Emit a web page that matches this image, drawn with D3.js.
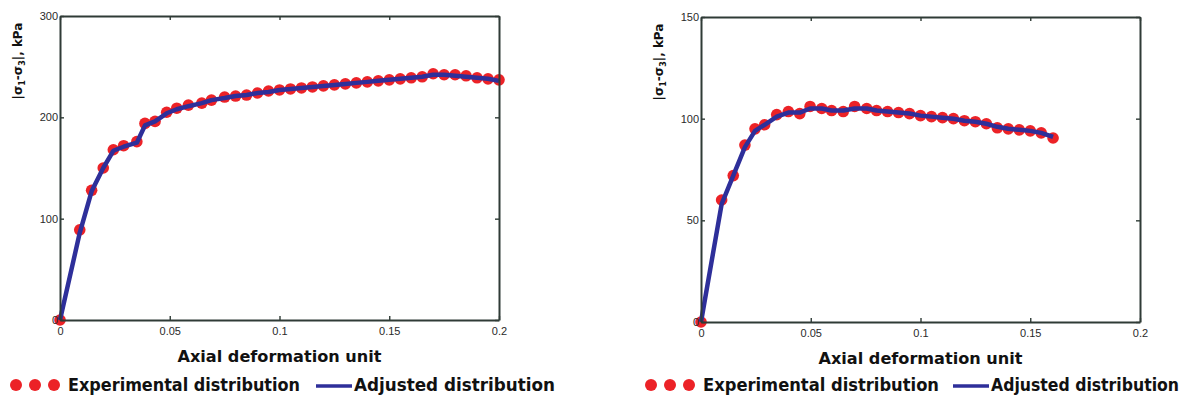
<!DOCTYPE html>
<html>
<head>
<meta charset="utf-8">
<script src="https://cdn.jsdelivr.net/npm/d3@7"></script>
<style>
  body { margin: 0; background: #fff; }
  svg text { font-family: "Liberation Sans", Arial, sans-serif; }
  .tick-label { font-size: 11px; fill: #2a2a2a; }
  .axis-title { font-family: "DejaVu Sans", sans-serif !important; font-size: 16px; font-weight: bold; fill: #111; }
  .y-title { font-family: "DejaVu Sans", sans-serif !important; font-size: 12px; font-weight: bold; fill: #111; }
  .legend-text { font-family: "DejaVu Sans", sans-serif !important; font-size: 17px; font-weight: bold; fill: #111; }
</style>
</head>
<body>
<div id="wrapper"></div>
<script>
// left panel: experimental points
const leftStrain = [0, 0.009, 0.0144, 0.0197, 0.0243, 0.029, 0.035, 0.0387, 0.0433, 0.0486,
  0.0532, 0.0585, 0.0646, 0.069, 0.075, 0.080, 0.085, 0.090, 0.095, 0.100, 0.105, 0.110,
  0.115, 0.120, 0.125, 0.130, 0.135, 0.140, 0.145, 0.150, 0.155, 0.160, 0.165, 0.170,
  0.175, 0.180, 0.185, 0.190, 0.195, 0.200];
const leftStress = [0, 89, 128, 150, 168, 172, 176, 194, 196, 205, 209, 212, 214, 217, 220,
  221, 222, 224, 226, 227, 228, 229, 230, 231, 232, 233, 234, 235, 236, 237, 238, 239, 240,
  243, 242, 242, 241, 239, 238, 237];
const leftAdjusted = [0, 86, 127, 150, 167, 171, 175, 192, 196, 204, 208, 211, 214, 217, 219,
  221, 222, 224, 225, 227, 228, 229, 230, 231, 232, 233, 234, 235, 236, 237, 238, 239, 240,
  242, 242, 241, 240, 239, 238, 236];

// right panel
const rightStrain = [0, 0.0094, 0.0147, 0.020, 0.0246, 0.029, 0.0345, 0.0398, 0.045, 0.0497,
  0.055, 0.0595, 0.0648, 0.070, 0.0755, 0.080, 0.085, 0.090, 0.095, 0.100, 0.105, 0.110,
  0.115, 0.120, 0.125, 0.130, 0.135, 0.140, 0.145, 0.150, 0.155, 0.1604];
const rightStress = [0, 60, 72, 87, 95, 97, 102, 103.5, 102.5, 106, 105, 104, 103.5, 106, 105,
  104, 103.5, 103, 102.5, 101.5, 101, 100.5, 100, 99, 98.5, 97.5, 95.5, 95, 94.5, 94, 93, 90.5];
const rightAdjusted = [0, 58, 72, 86, 94, 97, 101, 103, 103, 105, 105, 104, 104, 105, 105,
  104, 103.5, 103, 102.5, 101.5, 101, 100.5, 100, 99, 98.5, 97.5, 96, 95, 94.5, 94, 93, 91];

const xTicks = [0, 0.05, 0.1, 0.15, 0.2];
const xTickLabels = ["0", "0.05", "0.1", "0.15", "0.2"];
const leftYTicks = [0, 100, 200, 300];
const rightYTicks = [0, 50, 100, 150];

const xTitle = "Axial deformation unit";
const legendLabels = ["Experimental distribution", "Adjusted distribution"];

const red = "#ec2227";
const blue = "#2e2f9a";
const axisColor = "#2f3b36";

const svg = d3.select("#wrapper").append("svg")
  .attr("width", 1194).attr("height", 398);

function drawPanel(opts) {
  const { left, top, width, height, xs, ys, adj, yMax, yTicks } = opts;
  const g = svg.append("g").attr("transform", `translate(${left},${top})`);

  const xScale = d3.scaleLinear().domain([0, 0.2]).range([0, width]);
  const yScale = d3.scaleLinear().domain([0, yMax]).range([height, 0]);

  const pts = xs.map((x, i) => ({ x, y: ys[i], a: adj[i] }));

  // dots
  g.append("g").selectAll("circle")
    .data(pts)
    .join("circle")
    .attr("cx", d => xScale(d.x))
    .attr("cy", d => yScale(d.y))
    .attr("r", 5.8)
    .attr("fill", red);

  // adjusted line
  const line = d3.line()
    .x(d => xScale(d.x))
    .y(d => yScale(d.a));
  g.append("path")
    .datum(pts)
    .attr("d", line)
    .attr("fill", "none")
    .attr("stroke", blue)
    .attr("stroke-width", 4.5)
    .attr("stroke-linejoin", "round");

  // box axes with inward ticks
  const xAxisB = d3.axisBottom(xScale).tickValues(xTicks).tickSizeInner(-4).tickSizeOuter(0)
    .tickFormat((d, i) => xTickLabels[i]).tickPadding(7);
  const xAxisT = d3.axisTop(xScale).tickValues(xTicks).tickSizeInner(-4).tickSizeOuter(0)
    .tickFormat("");
  const yAxisL = d3.axisLeft(yScale).tickValues(yTicks).tickSizeInner(-4).tickSizeOuter(0)
    .tickPadding(2);
  const yAxisR = d3.axisRight(yScale).tickValues(yTicks).tickSizeInner(-4).tickSizeOuter(0)
    .tickFormat("");

  const axes = [
    g.append("g").attr("transform", `translate(0,${height})`).call(xAxisB),
    g.append("g").call(xAxisT),
    g.append("g").call(yAxisL),
    g.append("g").attr("transform", `translate(${width},0)`).call(yAxisR)
  ];
  axes.forEach(a => {
    a.select(".domain").attr("stroke", axisColor).attr("stroke-width", 2);
    a.selectAll(".tick line").attr("stroke", axisColor).attr("stroke-width", 1.4);
    a.selectAll(".tick text").attr("class", "tick-label").attr("font-size", null)
      .attr("font-family", null);
  });

  // x title
  g.append("text")
    .attr("class", "axis-title")
    .attr("x", width / 2)
    .attr("y", height + 42)
    .attr("text-anchor", "middle")
    .attr("textLength", 204)
    .attr("lengthAdjust", "spacingAndGlyphs")
    .text(xTitle);

  // y title with subscripts
  const yt = g.append("text")
    .attr("class", "y-title")
    .attr("transform", `translate(-38,45) rotate(-90)`)
    .attr("text-anchor", "middle");
  yt.append("tspan").text("|σ");
  yt.append("tspan").attr("font-size", "8px").attr("dy", 3).text("1");
  yt.append("tspan").attr("dy", -3).text("-σ");
  yt.append("tspan").attr("font-size", "8px").attr("dy", 3).text("3");
  yt.append("tspan").attr("dy", -3).text("|, kPa");
}

function drawLegend(x0, y0, lineX, len1, len2) {
  const lg = svg.append("g");
  [0, 1, 2].forEach(i => {
    lg.append("circle").attr("cx", x0 + i * 19).attr("cy", y0).attr("r", 6).attr("fill", red);
  });
  lg.append("text").attr("class", "legend-text")
    .attr("x", x0 + 52).attr("y", y0 + 6)
    .attr("textLength", len1).attr("lengthAdjust", "spacingAndGlyphs")
    .text(legendLabels[0]);
  lg.append("line")
    .attr("x1", lineX).attr("x2", lineX + 36)
    .attr("y1", y0 + 1).attr("y2", y0 + 1)
    .attr("stroke", blue).attr("stroke-width", 3.5);
  lg.append("text").attr("class", "legend-text")
    .attr("x", lineX + 38).attr("y", y0 + 6)
    .attr("textLength", len2).attr("lengthAdjust", "spacingAndGlyphs")
    .text(legendLabels[1]);
}

drawPanel({ left: 60, top: 16, width: 439, height: 304,
  xs: leftStrain, ys: leftStress, adj: leftAdjusted, yMax: 300, yTicks: leftYTicks });
drawPanel({ left: 701, top: 17, width: 439, height: 305,
  xs: rightStrain, ys: rightStress, adj: rightAdjusted, yMax: 150, yTicks: rightYTicks });

drawLegend(16, 385, 316, 232, 201);
drawLegend(651, 385, 953, 236, 188);
</script>
</body>
</html>
